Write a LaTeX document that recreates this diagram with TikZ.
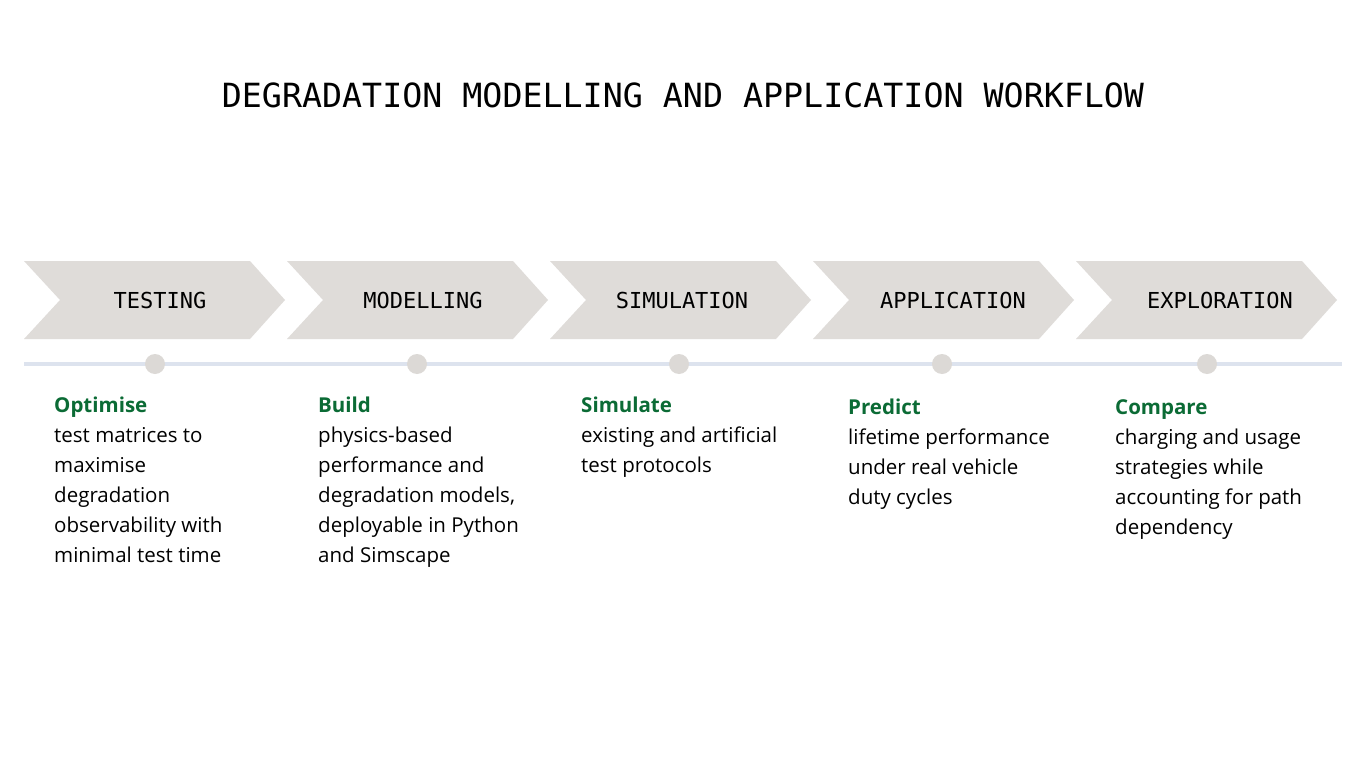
\documentclass[tikz,border=0pt]{standalone}
\usepackage{fontspec}
\setmainfont{Open Sans}
\newfontfamily\titlefont{DejaVu Sans Mono}
\definecolor{chev}{HTML}{DFDCD9}
\definecolor{dotc}{HTML}{DCD9D6}
\definecolor{linec}{HTML}{DDE3EE}
\definecolor{headg}{HTML}{0B6B35}
\tikzset{
  chevron/.style={fill=chev, draw=none},
  steplabel/.style={font=\titlefont\fontsize{22}{26}\selectfont, text=black, inner sep=0pt},
  dot/.style={circle, fill=dotc, draw=none, minimum size=20pt, inner sep=0pt},
  descr/.style={anchor=north west, align=left, inner sep=0pt, font=\fontsize{20.5}{30}\selectfont, text=black}
}
\begin{document}
\begin{tikzpicture}[x=1pt, y=-1pt]
\path[use as bounding box, fill=white] (0,0) rectangle (1366,768);
\node[font=\titlefont\fontsize{33.3}{40}\selectfont, inner sep=0pt] (title) at (683,95) {DEGRADATION MODELLING AND APPLICATION WORKFLOW};
% chevrons
\foreach \L [count=\i] in {24,287,550,813,1076}{
  \fill[chevron] (\L,261) -- ++(226,0) -- ++(35,39) -- ++(-35,39) -- ++(-226,0) -- ++(36,-39) -- cycle;
}
\node[steplabel] (s1) at (160,300) {TESTING};
\node[steplabel] (s2) at (423,300) {MODELLING};
\node[steplabel] (s3) at (682,300) {SIMULATION};
\node[steplabel] (s4) at (953,300) {APPLICATION};
\node[steplabel] (s5) at (1220,300) {EXPLORATION};
% timeline
\coordinate (tl) at (24,364);
\coordinate (tr) at (1342,364);
\draw[linec, line width=4pt] (tl) -- (tr);
\node[dot] (d1) at (155,364) {};
\node[dot] (d2) at (417,364) {};
\node[dot] (d3) at (679,364) {};
\node[dot] (d4) at (942,364) {};
\node[dot] (d5) at (1207,364) {};
% descriptions
\node[descr] (t1) at (54,397) {{\bfseries\color{headg}Optimise}\\test matrices to\\maximise\\degradation\\observability with\\minimal test time};
\node[descr] (t2) at (318,397) {{\bfseries\color{headg}Build}\\physics-based\\performance and\\degradation models,\\deployable in Python\\and Simscape};
\node[descr] (t3) at (581,397) {{\bfseries\color{headg}Simulate}\\existing and artificial\\test protocols};
\node[descr] (t4) at (848,399) {{\bfseries\color{headg}Predict}\\lifetime performance\\under real vehicle\\duty cycles};
\node[descr] (t5) at (1115,399) {{\bfseries\color{headg}Compare}\\charging and usage\\strategies while\\accounting for path\\dependency};
\end{tikzpicture}
\end{document}
